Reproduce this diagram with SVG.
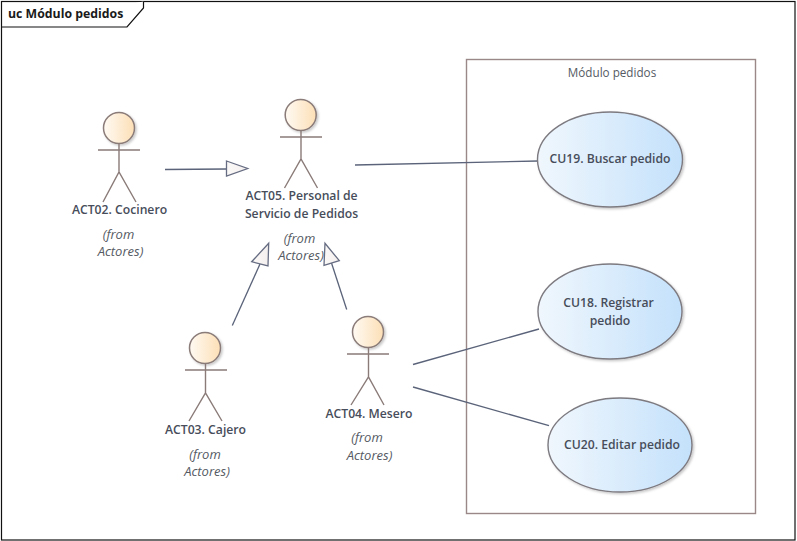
<svg xmlns="http://www.w3.org/2000/svg" width="797" height="541" viewBox="0 0 797 541">
<style>
text{font-family:"Open Sans","Noto Sans","Liberation Sans",sans-serif;font-size:11.7px;fill:#555a63;text-anchor:middle}
.b{font-weight:600;font-size:12.2px;fill:#474d5a}
.i{font-style:italic;font-size:13px;fill:#555a63}
.title{font-weight:700;font-size:12.3px;fill:#1a1a1a;text-anchor:start}
.head{fill:url(#actor);stroke:#8a7b78;stroke-width:1.5;filter:url(#sh)}
.limb{fill:none;stroke:#8a7b78;stroke-width:1.4}
.uc{fill:url(#case);stroke:#7d7a80;stroke-width:1.4;filter:url(#sh)}
.conn{fill:none;stroke:#5a6379;stroke-width:1.3}
.tri{fill:url(#tri);stroke:#666c82;stroke-width:1.3;stroke-linejoin:miter}
</style>
<defs>
<linearGradient id="actor" x1="0" y1="0" x2="1" y2="0"><stop offset="0" stop-color="#fffaf3"/><stop offset="1" stop-color="#fcdfb6"/></linearGradient>
<linearGradient id="case" x1="0" y1="0" x2="1" y2="0"><stop offset="0" stop-color="#f0f7fd"/><stop offset="1" stop-color="#c4e1fb"/></linearGradient>
<linearGradient id="tri" x1="0" y1="0" x2="1" y2="0"><stop offset="0" stop-color="#fbf9f8"/><stop offset="1" stop-color="#f3efee"/></linearGradient>
<filter id="sh" x="-10%" y="-10%" width="125%" height="125%"><feDropShadow dx="1.5" dy="1.5" stdDeviation="1" flood-color="#000" flood-opacity="0.22"/></filter>
</defs>
<rect width="797" height="541" fill="#fff"/>
<g id="frame">
<rect x="1.5" y="1.5" width="793.5" height="538.5" fill="none" stroke="#111" stroke-width="1.2"/>
<path d="M143.5 1.5V8L127 27H1.5" fill="#fff" stroke="#111" stroke-width="1.2"/>
<text class="title" x="8" y="18">uc Módulo pedidos</text>
</g>
<g id="boundary">
<rect x="466.5" y="59.5" width="289" height="454" fill="#fff" stroke="#9a8889" stroke-width="1.4"/>
<text x="612" y="77">Módulo pedidos</text>
</g>
<g id="connectors">
<path class="conn" d="M165 169.5L226.500 169"/>
<path class="tri" d="M226.500 161L247.700 168.500L226.500 176Z"/>
<path class="conn" d="M232.300 325.500L260 264"/>
<path class="tri" d="M268.700 243.300L251.700 261.700L268 266Z"/>
<path class="conn" d="M346.700 309.500L331.500 263"/>
<path class="tri" d="M325 243.300L324 265.300L339.300 260.700Z"/>
<path class="conn" d="M355 165L538 161"/>
<path class="conn" d="M413 364.500L539 329"/>
<path class="conn" d="M413 387L549 425.700"/>
</g>
<g id="act02">
<circle class="head" cx="119" cy="128" r="15.500"/>
<path class="limb" d="M98 150H140M119 143.500V172M103 202L119 172L136 202"/>
<text class="b" x="119.500" y="214">ACT02. Cocinero</text>
<text class="i" x="118.500" y="239">(from</text>
<text class="i" x="120.500" y="256">Actores)</text>
</g>
<g id="act05">
<circle class="head" cx="300.700" cy="115" r="15.500"/>
<path class="limb" d="M280 137H322M301 130.500V159M284.500 188L301 159L317.500 188"/>
<text class="b" x="301.500" y="200">ACT05. Personal de</text>
<text class="b" x="301.500" y="218">Servicio de Pedidos</text>
<text class="i" x="299.500" y="243">(from</text>
<text class="i" x="301" y="260">Actores)</text>
</g>
<g id="act03">
<circle class="head" cx="205" cy="348" r="15.500"/>
<path class="limb" d="M185 370H227M205.500 363.500V393M189 421L205.500 393L222 421"/>
<text class="b" x="205.500" y="434">ACT03. Cajero</text>
<text class="i" x="205" y="459">(from</text>
<text class="i" x="207" y="476">Actores)</text>
</g>
<g id="act04">
<circle class="head" cx="368" cy="332" r="15.500"/>
<path class="limb" d="M347 354H389M368.500 347.500V377M351 405L368.500 377L384 405"/>
<text class="b" x="369" y="418">ACT04. Mesero</text>
<text class="i" x="367" y="442">(from</text>
<text class="i" x="369.500" y="460">Actores)</text>
</g>
<g id="cu19">
<ellipse class="uc" cx="610" cy="159.500" rx="72.500" ry="47.500"/>
<text class="b" x="610" y="163">CU19. Buscar pedido</text>
</g>
<g id="cu18">
<ellipse class="uc" cx="610" cy="311.500" rx="72" ry="47.500"/>
<text class="b" x="608.500" y="307">CU18. Registrar</text>
<text class="b" x="610" y="325">pedido</text>
</g>
<g id="cu20">
<ellipse class="uc" cx="620" cy="445" rx="72" ry="47"/>
<text class="b" x="622" y="449">CU20. Editar pedido</text>
</g>
</svg>
